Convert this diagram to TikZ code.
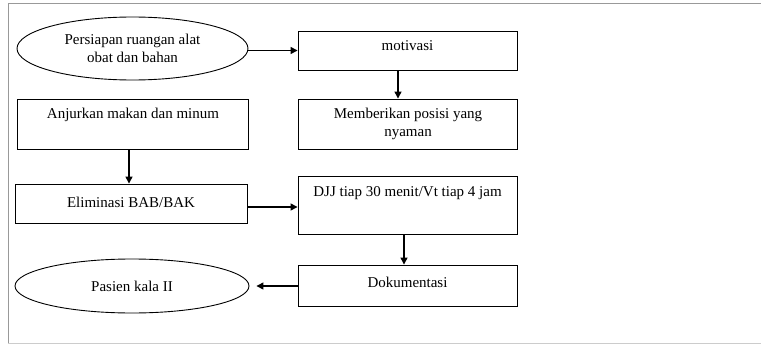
\documentclass[tikz,border=0pt]{standalone}
\usepackage{fontspec}
\setmainfont{Liberation Serif}
\usetikzlibrary{shapes.geometric,arrows.meta}
\begin{document}
\begin{tikzpicture}[x=1pt,y=-1pt,
  every node/.style={font=\fontsize{15}{18}\selectfont},
  box/.style={draw, line width=0.9pt, rectangle, inner sep=0pt},
  oval/.style={draw, line width=0.9pt, ellipse, inner sep=0pt, align=center},
  txt/.style={inner sep=0pt, align=center},
  arr/.style={line width=1.3pt, -{Triangle[length=7pt,width=7pt]}}]
\useasboundingbox (0,0) rectangle (761,345);
% frame
\draw[gray!80, line width=1pt] (761,4) -- (8,4) -- (8,343);
\draw[gray!40, line width=1pt] (8,343) -- (761,343);
% nodes
\node[oval, minimum width=231pt, minimum height=63pt] (ell1) at (132.5,48.5) {Persiapan ruangan alat\\obat dan bahan};
\node[box, minimum width=219pt, minimum height=39pt] (mot) at (407.5,50.5) {};
\node[txt, anchor=center] (tmot) at (407.5,46) {motivasi};
\node[box, minimum width=219pt, minimum height=50pt] (mem) at (407.5,124) {};
\node[txt] (tmem) at (408,124) {Memberikan posisi yang\\nyaman};
\node[box, minimum width=231pt, minimum height=50pt] (anj) at (132.5,124) {};
\node[txt] (tanj) at (133,115) {Anjurkan makan dan minum};
\node[box, minimum width=232pt, minimum height=39pt] (eli) at (131,203.5) {};
\node[txt] (teli) at (131,202) {Eliminasi BAB/BAK};
\node[box, minimum width=219pt, minimum height=58pt] (djj) at (407.5,205) {};
\node[txt] (tdjj) at (407.5,193) {DJJ tiap 30 menit/Vt tiap 4 jam};
\node[box, minimum width=219pt, minimum height=41pt] (dok) at (407.5,285.5) {};
\node[txt] (tdok) at (407.5,282) {Dokumentasi};
\node[oval, minimum width=234pt, minimum height=54pt] (ell2) at (132,286) {Pasien kala II};
% connectors
\draw[arr] (ell1.east |- 0,50.5) -- (mot.west |- 0,50.5);
\draw[arr] (mot.south -| 398,0) -- (mem.north -| 398,0);
\draw[arr] (anj.south -| 129,0) -- (eli.north -| 129,0);
\draw[arr] (eli.east |- 0,207) -- (djj.west |- 0,207);
\draw[arr] (djj.south -| 404,0) -- (dok.north -| 404,0);
\draw[arr] (dok.west |- 0,286) -- ([xshift=7pt]ell2.east);
\end{tikzpicture}
\end{document}
